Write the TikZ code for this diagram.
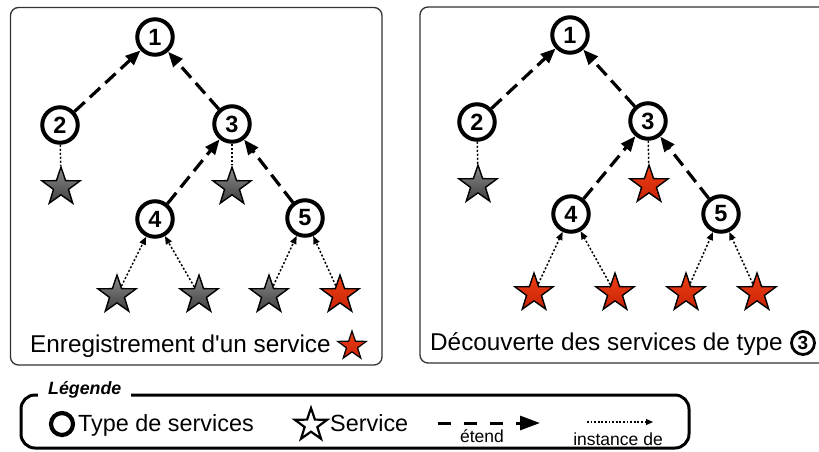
\documentclass[tikz,border=0pt]{standalone}
\usepackage{fontspec}
\setmainfont{Liberation Sans}[Ligatures=TeXOff]
\usetikzlibrary{shapes.geometric,arrows.meta}
\definecolor{sgtop}{RGB}{140,140,140}
\definecolor{sgbot}{RGB}{62,62,62}
\definecolor{srtop}{RGB}{238,62,22}
\definecolor{srbot}{RGB}{200,36,6}
\definecolor{panelline}{RGB}{50,50,50}
\tikzset{
  typ/.style={circle,draw=black,line width=4pt,minimum size=35.5pt,inner sep=0pt,fill=white,
    font=\fontsize{23.5}{23.5}\selectfont\bfseries},
  svc/.style={star,star points=5,star point ratio=2.55,minimum size=40pt,inner sep=0pt,
    draw=black,line width=1.4pt},
  gstar/.style={svc,top color=sgtop,bottom color=sgbot},
  rstar/.style={svc,top color=srtop,bottom color=srbot},
  ext/.style={line width=3.2pt,dash pattern=on 14pt off 7pt,-{Triangle[length=15pt,width=12pt]}},
  inst/.style={line width=1.5pt,dash pattern=on 2pt off 2pt,-{Triangle[length=8pt,width=6.5pt]}},
  instn/.style={line width=1.5pt,dash pattern=on 2pt off 2pt},
  panel/.style={draw=panelline,line width=1.3pt,rounded corners=8pt},
  ptext/.style={anchor=base west,inner sep=0pt,font=\fontsize{24.3}{28}\selectfont},
  ltext/.style={anchor=base west,inner sep=0pt,font=\fontsize{23.4}{27}\selectfont},
  stext/.style={anchor=base,inner sep=0pt,font=\fontsize{17.5}{20}\selectfont},
}
\begin{document}
\begin{tikzpicture}[x=1pt,y=-1pt]
\useasboundingbox (0,0) rectangle (819,451);
\clip (0,0) rectangle (819,451);
\fill[white] (0,0) rectangle (819,451);

% ---------- left panel ----------
\draw[panel] (10.5,7.5) rectangle (382,365);
\node[typ] (a1) at (155,37) {1};
\node[typ] (a2) at (60,125) {2};
\node[typ] (a3) at (232,124) {3};
\node[typ] (a4) at (155,219) {4};
\node[typ] (a5) at (305,218) {5};
\node[gstar] (as2) at (61,187) {};
\node[gstar] (as3) at (232,187) {};
\node[gstar] (as41) at (117,295) {};
\node[gstar] (as42) at (199,295) {};
\node[gstar] (as51) at (269,295) {};
\node[rstar] (as52) at (340,295) {};
\draw[ext] (a2) -- (a1);
\draw[ext] (a3) -- (a1);
\draw[ext] (a4) -- (a3);
\draw[ext] (a5) -- (a3);
\draw[instn] (a2) -- (as2);
\draw[instn] (a3) -- (as3);
\draw[inst] (as41) -- (a4);
\draw[inst] (as42) -- (a4);
\draw[inst] (as51) -- (a5);
\draw[inst] (as52) -- (a5);
\node[ptext] (at) at (30,352) {Enregistrement d'un service};
\node[rstar,minimum size=30pt,line width=1.2pt] (atstar) at (352,346) {};

% ---------- right panel ----------
\draw[panel] (420,7) rectangle (845,363);
\node[typ] (b1) at (570,35) {1};
\node[typ] (b2) at (477,122) {2};
\node[typ] (b3) at (648,121) {3};
\node[typ] (b4) at (571,214) {4};
\node[typ] (b5) at (721,214) {5};
\node[gstar] (bs2) at (478,185) {};
\node[rstar] (bs3) at (649,185) {};
\node[rstar] (bs41) at (534,293) {};
\node[rstar] (bs42) at (615,293) {};
\node[rstar] (bs51) at (686,293) {};
\node[rstar] (bs52) at (757,293) {};
\draw[ext] (b2) -- (b1);
\draw[ext] (b3) -- (b1);
\draw[ext] (b4) -- (b3);
\draw[ext] (b5) -- (b3);
\draw[instn] (b2) -- (bs2);
\draw[instn] (b3) -- (bs3);
\draw[inst] (bs41) -- (b4);
\draw[inst] (bs42) -- (b4);
\draw[inst] (bs51) -- (b5);
\draw[inst] (bs52) -- (b5);
\node[ptext] (bt) at (430,350) {Découverte des services de type};
\node[typ,minimum size=23pt,line width=2.8pt,font=\fontsize{19}{19}\selectfont\bfseries] (btc) at (803,343) {3};

% ---------- legend ----------
\draw[line width=3pt,rounded corners=14pt] (21,395) rectangle (689,448);
\node[anchor=base west,fill=white,inner xsep=10pt,inner ysep=2pt,
  font=\fontsize{17.8}{20}\selectfont\bfseries\itshape] (lg) at (38,394) {Légende};
\node[circle,draw=black,line width=4.2pt,minimum size=22pt,inner sep=0pt] (lc) at (62,424) {};
\node[ltext] (lct) at (78,431) {Type de services};
\node[svc,fill=white,minimum size=34pt,line width=2.2pt] (lst) at (311,425) {};
\node[ltext] (lstt) at (330,431) {Service};
\coordinate (le1) at (438,423);
\coordinate (le2) at (540,423);
\draw[line width=3pt,dash pattern=on 13pt off 13pt,-{Triangle[length=20pt,width=14pt]}] (le1) -- (le2);
\node[stext] (let) at (482,442) {étend};
\coordinate (li1) at (587,422);
\coordinate (li2) at (653,422);
\draw[line width=1.3pt,dash pattern=on 1.8pt off 1.8pt,-{Triangle[length=7pt,width=6pt]}] (li1) -- (li2);
\node[stext] (lit) at (618,445) {instance de};
\end{tikzpicture}
\end{document}
